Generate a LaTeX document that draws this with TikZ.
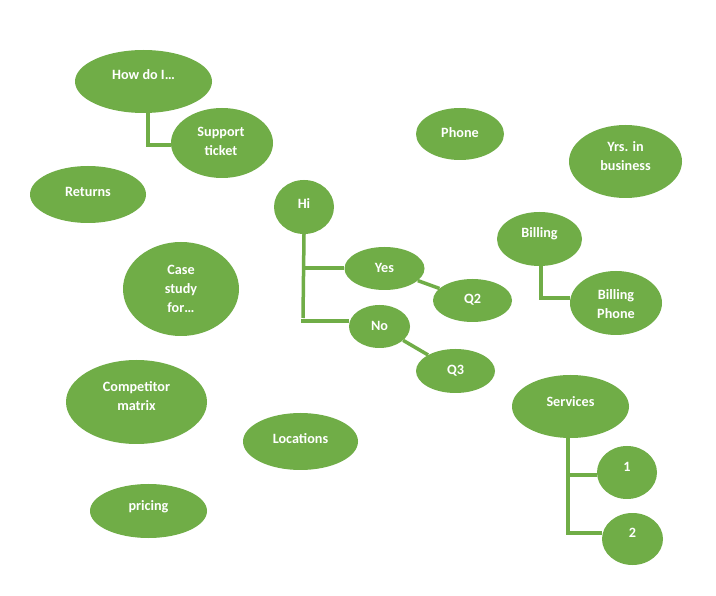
\documentclass[tikz,border=0pt]{standalone}
\usepackage{fontspec}
\setmainfont{Carlito}
\usetikzlibrary{shapes.geometric}
\definecolor{ogreen}{HTML}{70AD47}
\tikzset{
  bub/.style={ellipse, fill=ogreen, draw=none, inner sep=0pt},
  lbl/.style={text=white, font=\bfseries\fontsize{14.2}{19}\selectfont, align=center, inner sep=0pt},
  conn/.style={draw=ogreen, line width=3.5pt}
}
\begin{document}
\begin{tikzpicture}[x=1pt,y=-1pt]
\useasboundingbox (0,0) rectangle (716,596);
\fill[white] (0,0) rectangle (716,596);

% bubbles
\node[bub, minimum width=137, minimum height=63] (how) at (143.5,81.5) {};
\node[bub, minimum width=102, minimum height=70] (sup) at (222,143) {};
\node[bub, minimum width=116, minimum height=57] (ret) at (88,194.5) {};
\node[bub, minimum width=88, minimum height=52] (pho) at (460,134) {};
\node[bub, minimum width=113, minimum height=73] (yrs) at (625.5,161.5) {};
\node[bub, minimum width=60, minimum height=54] (hi) at (304,207) {};
\node[bub, minimum width=80, minimum height=43] (yes) at (384.5,268.5) {};
\node[bub, minimum width=79, minimum height=43] (q2) at (472.5,300.5) {};
\node[bub, minimum width=61, minimum height=43] (no) at (379.5,326.5) {};
\node[bub, minimum width=79, minimum height=44] (q3) at (455.5,371) {};
\node[bub, minimum width=85, minimum height=54] (bil) at (539.5,239) {};
\node[bub, minimum width=92, minimum height=64] (bph) at (616,303) {};
\node[bub, minimum width=116, minimum height=94] (cas) at (181,289) {};
\node[bub, minimum width=141, minimum height=84] (com) at (136.5,402) {};
\node[bub, minimum width=115, minimum height=57] (loc) at (300.5,441.5) {};
\node[bub, minimum width=117, minimum height=54] (pri) at (148.5,511) {};
\node[bub, minimum width=117, minimum height=63] (ser) at (570.5,406.5) {};
\node[bub, minimum width=60, minimum height=53] (one) at (627,472.5) {};
\node[bub, minimum width=61, minimum height=52] (two) at (632.5,539) {};

% labels
\node[lbl] (howT) at (143.5,75) {How do I…};
\node[lbl] (supT) at (221,141.5) {Support\\ticket};
\node[lbl] (retT) at (88,192) {Returns};
\node[lbl] (phoT) at (460,133) {Phone};
\node[lbl] (yrsT) at (625.5,156) {Yrs. in\\business};
\node[lbl] (hiT) at (304,203.5) {Hi};
\node[lbl] (yesT) at (384.5,268) {Yes};
\node[lbl] (q2T) at (472.5,300) {Q2};
\node[lbl] (noT) at (379.5,326) {No};
\node[lbl] (q3T) at (455.5,370.5) {Q3};
\node[lbl] (bilT) at (539.5,234) {Billing};
\node[lbl] (bphT) at (616,304) {Billing\\Phone};
\node[lbl] (casT) at (181,289) {Case\\study\\for…};
\node[lbl] (comT) at (136.5,396.5) {Competitor\\matrix};
\node[lbl] (locT) at (300.5,439) {Locations};
\node[lbl] (priT) at (148.5,507) {pricing};
\node[lbl] (serT) at (570.5,401.5) {Services};
\node[lbl] (oneT) at (627,467) {1};
\node[lbl] (twoT) at (632.5,533) {2};

% junction coordinates
\coordinate (howJ) at (148,145);
\coordinate (hiJ1) at (303,268);
\coordinate (hiJ2) at (303,321);
\coordinate (bilJ) at (541,298);
\coordinate (serJ1) at (568,475);
\coordinate (serJ2) at (568,533);

% connectors
\begin{scope}[on background layer/.style={}]
\end{scope}
\draw[conn] (how.south -| howJ) -- (howJ) -- (sup.west |- howJ);
\draw[conn] (hi.south) -- ([yshift=3pt]hiJ2);
\draw[conn] (hiJ1) -- (yes.west |- hiJ1);
\draw[conn] ([xshift=-1.75pt]hiJ2) -- (no.west |- hiJ2);
\draw[conn] (yes) -- (q2);
\draw[conn] (no) -- (q3);
\draw[conn] (bil.south -| bilJ) -- (bilJ) -- (bph.west |- bilJ);
\draw[conn] (ser.south -| serJ1) -- ([yshift=1.75pt]serJ2);
\draw[conn] (serJ1) -- (one.west |- serJ1);
\draw[conn] ([xshift=-1.75pt]serJ2) -- (two.west |- serJ2);
\end{tikzpicture}
\end{document}
